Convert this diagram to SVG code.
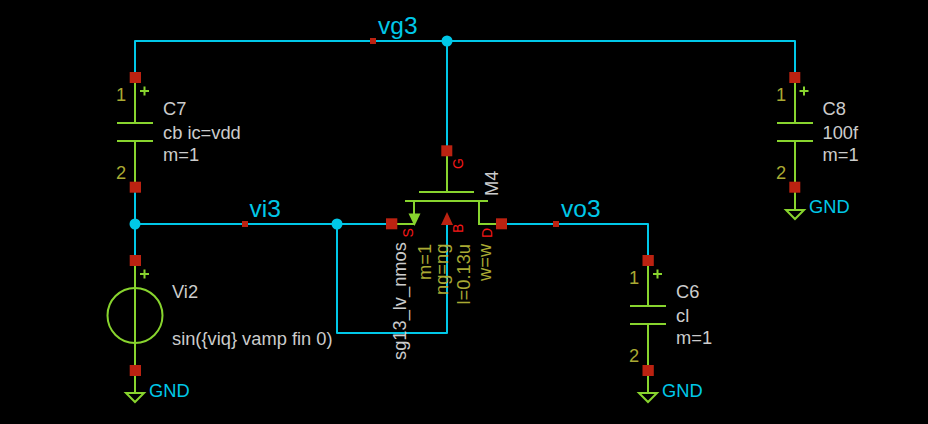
<svg xmlns="http://www.w3.org/2000/svg" width="928" height="424" viewBox="0 0 928 424">
<style>
text{font-family:"Liberation Sans",Arial,sans-serif}
.w{fill:none;stroke:#00c8e8;stroke-width:2;stroke-linejoin:round}
.s{fill:none;stroke:#88d42e;stroke-width:2}
.f{fill:#88d42e;stroke:none}
.p{fill:#bb2211}
.j{fill:#00c8e8}
.t{fill:#cccccc;font-size:18.3px}
.o{fill:#aaaa33;font-size:18.3px}
.n{fill:#00c8e8;font-size:24.500px}
.g{fill:#00c8e8;font-size:18.3px}
.r{fill:#f81818;font-size:14px}
</style>
<rect width="928" height="424" fill="#000"/>
<g id="connectors">
<path class="w" d="M135 77V41H795V77"/>
<path class="w" d="M447 41V151"/>
<path class="w" d="M135 187V260"/>
<path class="w" d="M135 224H391"/>
<path class="w" d="M501 224H648V260"/>
<path class="w" d="M337 224V333H447V225"/>
<circle class="j" cx="447" cy="41" r="5.500"/>
<circle class="j" cx="135" cy="224" r="5.500"/>
<circle class="j" cx="337" cy="224" r="5.500"/>
</g>
<g id="net-vg3"><rect class="p" x="370" y="38" width="6" height="6"/><text class="n" x="378" y="34">vg3</text></g>
<g id="net-vi3"><rect class="p" x="242" y="221" width="6" height="6"/><text class="n" x="249.500" y="217">vi3</text></g>
<g id="net-vo3"><rect class="p" x="553" y="221" width="6" height="6"/><text class="n" x="561" y="217">vo3</text></g>
<g id="C7">
<path class="s" d="M135 77V123M117 123H153M117 141H153M135 141V187M140 91H149M144.500 86.500V95.500"/>
<rect class="p" x="129.700" y="72" width="11.300" height="11"/><rect class="p" x="129.700" y="181.700" width="11.300" height="11"/>
<text class="o" x="116" y="101">1</text><text class="o" x="116" y="179">2</text>
<text class="t" x="163" y="114.500">C7</text><text class="t" x="163" y="138.500">cb ic=vdd</text><text class="t" x="163" y="161">m=1</text>
</g>
<g id="C8">
<path class="s" d="M795 77V123M777 123H813M777 141H813M795 141V210M799.500 91H808.500M804 86.500V95.500"/>
<path class="s" d="M786 210H804L795 219Z"/>
<rect class="p" x="789.300" y="72" width="11" height="11"/><rect class="p" x="789.300" y="181.700" width="11" height="11"/>
<text class="o" x="776" y="101">1</text><text class="o" x="776" y="179">2</text>
<text class="t" x="822.500" y="114.500">C8</text><text class="t" x="822.500" y="138.500">100f</text><text class="t" x="822.500" y="161">m=1</text>
<text class="g" x="809" y="213">GND</text>
</g>
<g id="C6">
<path class="s" d="M648 260V306M630 306H666M630 324H666M648 324V393M653 274H662M657.500 269.500V278.500"/>
<path class="s" d="M639 393H657L648 402Z"/>
<rect class="p" x="642.500" y="255" width="11.300" height="11"/><rect class="p" x="642.500" y="365" width="11.300" height="11"/>
<text class="o" x="629" y="284">1</text><text class="o" x="629" y="362">2</text>
<text class="t" x="676" y="297.500">C6</text><text class="t" x="676" y="321.500">cl</text><text class="t" x="676" y="344">m=1</text>
<text class="g" x="662" y="397">GND</text>
</g>
<g id="Vi2">
<path class="s" d="M135 260V393M140 274H149M144.500 269.500V278.500"/>
<circle class="s" cx="135" cy="315.500" r="27.500"/>
<path class="s" d="M126 393H144L135 402Z"/>
<rect class="p" x="129.700" y="255" width="11.300" height="11"/><rect class="p" x="129.700" y="365" width="11.300" height="11"/>
<text class="t" x="172" y="297.500">Vi2</text><text class="t" x="172" y="344.500">sin({viq} vamp fin 0)</text>
<text class="g" x="149" y="397">GND</text>
</g>
<g id="M4">
<path class="s" d="M447 151V192M419 192H474M405 201H488M414 201V224H391M479 201V224H501"/>
<path class="f" d="M408.500 213.500H420.500L414.500 226Z"/>
<path class="p" d="M447 212L453 225H441Z"/>
<rect class="p" x="441.300" y="145.300" width="11" height="11"/>
<rect class="p" x="386" y="218.300" width="11.300" height="11"/>
<rect class="p" x="496" y="218.300" width="11" height="11"/>
<text class="r" transform="translate(462.500 169) rotate(-90)">G</text>
<text class="r" transform="translate(412.500 237.500) rotate(-90)">S</text>
<text class="r" transform="translate(462.500 233) rotate(-90)">B</text>
<text class="r" transform="translate(491.500 238) rotate(-90)">D</text>
<text class="t" transform="translate(498 196) rotate(-90)">M4</text>
<text class="t" transform="translate(406 360) rotate(-90)">sg13_lv_nmos</text>
<text class="o" transform="translate(431 280) rotate(-90)">m=1</text>
<text class="o" transform="translate(447.500 295) rotate(-90)">ng=ng</text>
<text class="o" transform="translate(469.500 304.500) rotate(-90)">l=0.13u</text>
<text class="o" transform="translate(491 281) rotate(-90)">w=w</text>
</g>
</svg>
